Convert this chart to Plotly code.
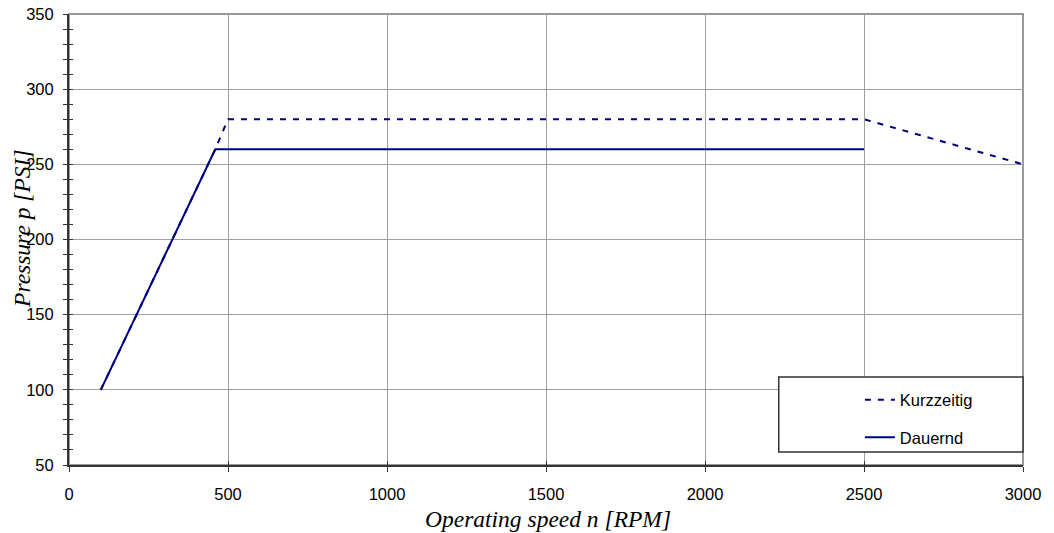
import plotly.graph_objects as go

# Data
speed_kurz = [100, 460, 500, 2500, 3000]
press_kurz = [100, 260, 280, 280, 250]
speed_dauer = [100, 460, 2500]
press_dauer = [100, 260, 260]

x_ticks = [0, 500, 1000, 1500, 2000, 2500, 3000]
y_ticks = [50, 100, 150, 200, 250, 300, 350]

NAVY = "#000080"
TICKFONT = dict(family="Liberation Sans, Arial", size=16.5, color="black")

fig = go.Figure()
fig.add_trace(go.Scatter(x=speed_kurz, y=press_kurz, mode="lines", name="Kurzzeitig",
                         line=dict(color=NAVY, width=2, dash="6px,7px"), legendgroup="a"))
fig.add_trace(go.Scatter(x=speed_dauer, y=press_dauer, mode="lines", name="Dauernd",
                         line=dict(color=NAVY, width=2), legendgroup="b"))
# invisible trace to activate overlay axes (inside ticks)
fig.add_trace(go.Scatter(x=speed_dauer, y=press_dauer, mode="lines", xaxis="x2", yaxis="y2",
                         line=dict(color="rgba(0,0,0,0)"), showlegend=False, hoverinfo="skip"))

fig.update_layout(
    width=1054, height=533,
    margin=dict(l=69, r=31, t=14, b=68),
    paper_bgcolor="white", plot_bgcolor="white",
    showlegend=True,
    legend=dict(x=0.829, y=0.183, xanchor="left", yanchor="top",
                font=dict(family="Liberation Sans, Arial", size=16.5, color="black"),
                bgcolor="rgba(0,0,0,0)", borderwidth=0, tracegroupgap=13),
    xaxis=dict(range=[0, 3000], tickvals=x_ticks, ticktext=[str(v) for v in x_ticks],
               showgrid=True, gridcolor="#a0a0a0", gridwidth=1, zeroline=False,
               showline=True, linecolor="#333333", linewidth=2, automargin=False,
               ticks="outside", ticklen=5, tickcolor="#333333", tickwidth=1,
               tickfont=TICKFONT, ticklabelstandoff=8),
    yaxis=dict(range=[50, 350], tickvals=y_ticks, ticktext=[str(v) for v in y_ticks],
               showgrid=True, gridcolor="#a0a0a0", gridwidth=1, zeroline=False,
               showline=True, linecolor="#333333", linewidth=2, automargin=False,
               ticks="outside", ticklen=4, tickcolor="#333333", tickwidth=1,
               minor=dict(dtick=10, ticks="outside", ticklen=4, tickcolor="#333333", showgrid=False),
               tickfont=TICKFONT, ticklabelstandoff=6),
    xaxis2=dict(overlaying="x", matches="x", range=[0, 3000], tickvals=x_ticks,
                showticklabels=False, showgrid=False, zeroline=False, showline=False,
                ticks="inside", ticklen=4, tickcolor="#333333", tickwidth=1,
                anchor="y2", side="bottom", automargin=False),
    yaxis2=dict(overlaying="y", matches="y", range=[50, 350], tickvals=y_ticks,
                showticklabels=False, showgrid=False, zeroline=False, showline=False,
                ticks="inside", ticklen=4, tickcolor="#333333", tickwidth=1,
                minor=dict(dtick=10, ticks="inside", ticklen=4, tickcolor="#333333", showgrid=False),
                anchor="x2", side="left", automargin=False),
    shapes=[
        dict(type="rect", xref="paper", yref="paper", x0=0, x1=1, y0=0, y1=1,
             line=dict(color="#999999", width=2), layer="below"),
        dict(type="rect", xref="paper", yref="paper", x0=0.744, x1=1.0, y0=0.029, y1=0.195,
             line=dict(color="#333333", width=1.5), fillcolor="white", layer="above"),
    ],
    annotations=[
        dict(text="<i>Pressure p [PSI]</i>", xref="paper", yref="paper", x=-0.050, y=0.524,
             textangle=-90, showarrow=False, xanchor="center", yanchor="middle",
             font=dict(family="Liberation Serif, Times New Roman", size=23.5, color="black")),
        dict(text="<i>Operating speed n [RPM]</i>", xref="paper", yref="paper", x=0.502, y=-0.12,
             showarrow=False, xanchor="center", yanchor="middle",
             font=dict(family="Liberation Serif, Times New Roman", size=23.5, color="black")),
    ],
)

fig.write_html("out.html", config={"displayModeBar": False},
               post_script="document.body.style.margin='0';document.body.style.overflow='hidden';")
